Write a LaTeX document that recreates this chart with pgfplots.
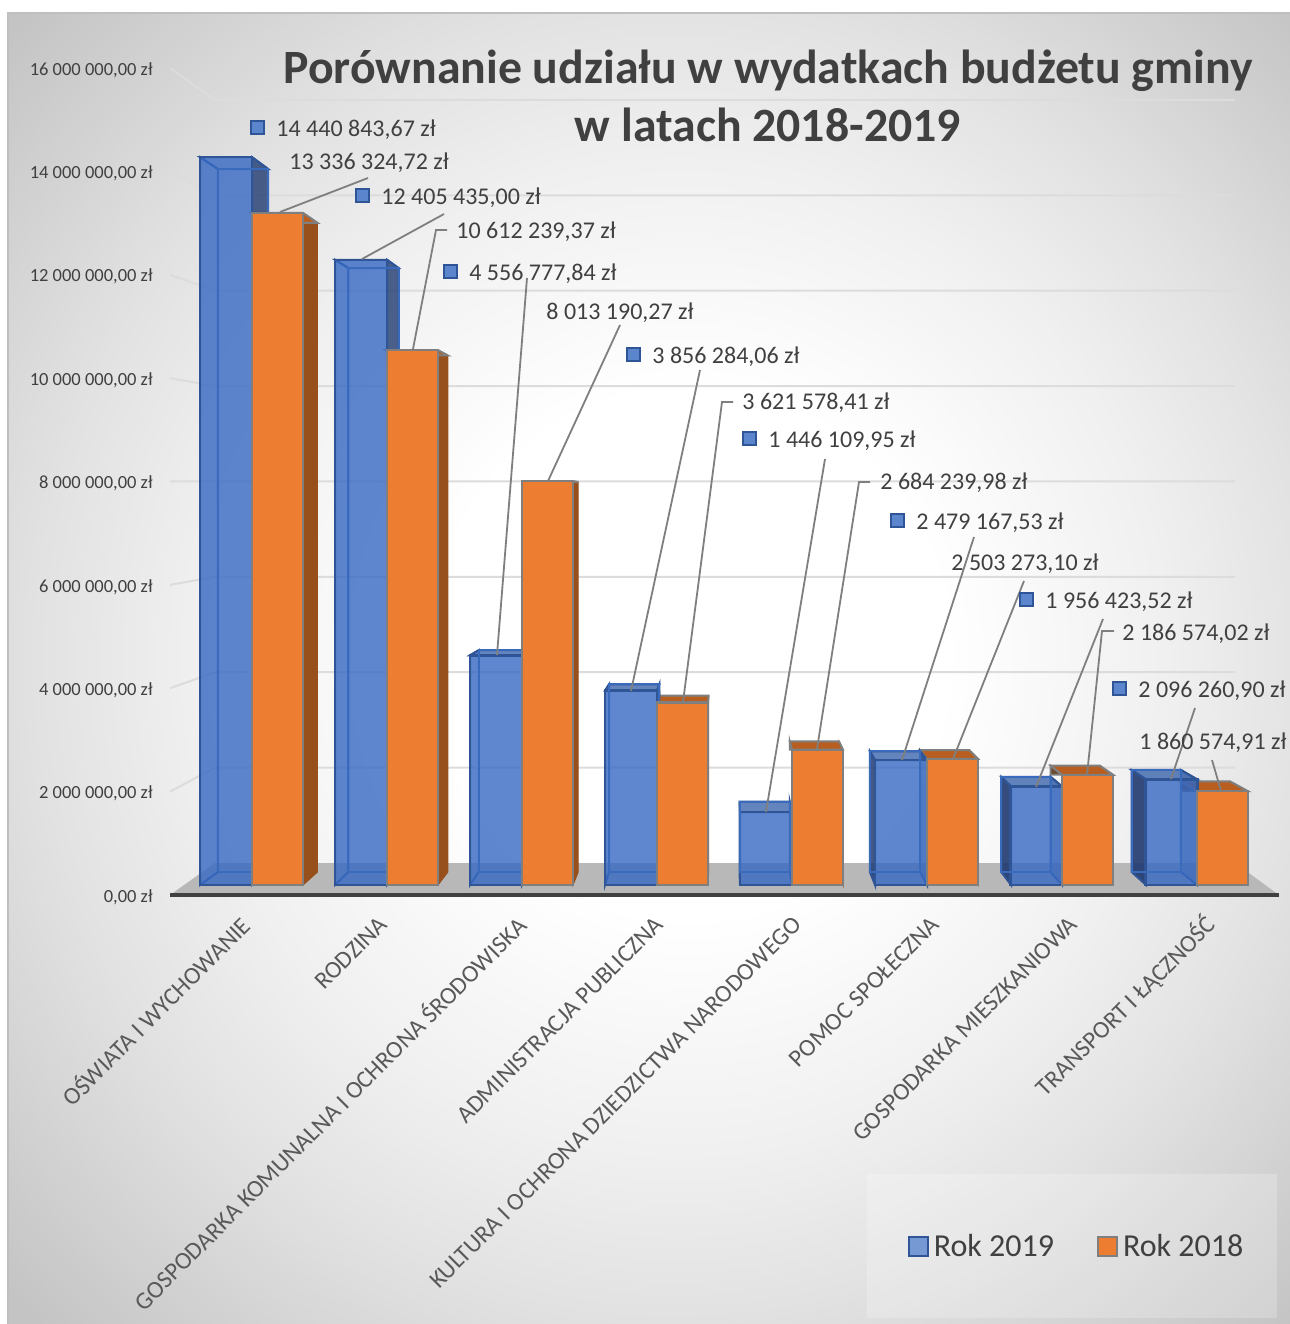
\documentclass[border=0pt]{standalone}
\usepackage{pgfplots}
\pgfplotsset{compat=1.18}
\usepackage{fontspec}
\setmainfont{Carlito}
\definecolor{txt}{HTML}{404040}
\definecolor{cattxt}{HTML}{595959}
\definecolor{gridc}{HTML}{DCDCDC}
\definecolor{floorc}{HTML}{B8B8B8}
\definecolor{bfill}{HTML}{3769C3}
\definecolor{bkey}{HTML}{5B86CE}
\definecolor{bedge}{HTML}{2F5597}
\definecolor{binner}{HTML}{3A6ABC}
\definecolor{bside}{HTML}{203A70}
\definecolor{btop}{HTML}{2F5CA8}
\definecolor{ofill}{HTML}{ED7D31}
\definecolor{oedge}{HTML}{7F7F7F}
\definecolor{oside}{HTML}{974F1C}
\definecolor{otop}{HTML}{B85E20}
\definecolor{oleft}{HTML}{6B4A30}
\definecolor{leader}{HTML}{7F7F7F}
\tikzset{lbl/.style={font=\fontsize{12pt}{14pt}\selectfont,text=txt,anchor=west,inner sep=0pt},
  ldr/.style={draw=leader,line width=0.9pt}}
\pgfdeclareradialshading{bgshade}{\pgfpoint{2bp}{0.7bp}}{%
  rgb(0bp)=(1,1,1); rgb(10bp)=(1,1,1); rgb(19bp)=(0.94,0.94,0.94);
  rgb(25bp)=(0.885,0.885,0.885); rgb(35bp)=(0.77,0.77,0.77); rgb(50bp)=(0.74,0.74,0.74)}
\newcommand{\keyb}{{\setlength\fboxsep{0pt}\setlength\fboxrule{1pt}\raisebox{2pt}{\fcolorbox{bedge}{bkey}{\rule{0pt}{5.5pt}\rule{5.5pt}{0pt}}}}\hspace{5.5pt}}
% back corners of a box, front at x0..x1 with value v (millions)
\newcommand{\backc}[3]{%
  \pgfmathsetmacro\bxa{#1+0.0342*(726-#1)}%
  \pgfmathsetmacro\bxb{#2+0.0342*(726-#2)}%
  \pgfmathsetmacro\bt{#3*0.9658+0.2578}}
% x0,x1,v,left opacity,right opacity,top opacity
\newcommand{\blueBox}[6]{%
  \backc{#1}{#2}{#3}%
  \addplot[forget plot,draw=bedge,line width=1pt,fill=bside,fill opacity=#4] coordinates {(#1,0) (#1,#3) (\bxa,\bt) (\bxa,0.2578)} -- cycle;
  \addplot[forget plot,draw=bedge,line width=1pt,fill=bside,fill opacity=#5] coordinates {(#2,0) (#2,#3) (\bxb,\bt) (\bxb,0.2578)} -- cycle;
  \addplot[forget plot,draw=bedge,line width=1pt,fill=btop,fill opacity=#6] coordinates {(#1,#3) (#2,#3) (\bxb,\bt) (\bxa,\bt)} -- cycle;
}
\newcommand{\blueBack}[3]{%
  \backc{#1}{#2}{#3}%
  \addplot[forget plot,draw=binner,line width=1pt] coordinates {(\bxa,0.2578) (\bxa,\bt) (\bxb,\bt) (\bxb,0.2578)} -- cycle;
}
\newcommand{\orangeBox}[3]{%
  \backc{#1}{#2}{#3}%
  \addplot[forget plot,draw=oedge,line width=0.9pt,fill=oleft] coordinates {(#1,#3) (\bxa,\bt) (\bxa,#3)} -- cycle;
  \addplot[forget plot,draw=oside,line width=0.5pt,fill=oside] coordinates {(#2,0) (#2,#3) (\bxb,\bt) (\bxb,0.2578)} -- cycle;
  \addplot[forget plot,draw=oedge,line width=1pt,fill=otop] coordinates {(#1,#3) (#2,#3) (\bxb,\bt) (\bxa,\bt)} -- cycle;
}
\begin{document}
\begin{tikzpicture}[x=1pt,y=1pt]
\path[use as bounding box] (0,0) rectangle (645,662);
\shade[shading=bgshade] (4,0) rectangle (645,655.5);
\draw[color=black!25,line width=0.7pt] (4,0) -- (4,655.5) -- (645,655.5);
%------------------------------------ value axis, floor, grid, categories
\begin{axis}[
  at={(85pt,214.5pt)},anchor=south west,scale only axis,
  width=554.5pt,height=413.5pt,
  xmin=170,xmax=1279,ymin=0,ymax=16,clip=false,
  axis x line=bottom,axis y line=left,
  axis line style={-},
  y axis line style={draw=none},
  x axis line style={color=txt,line width=1.6pt},
  major tick length=0pt,
  tick style={draw=none},
  ytick={0,2,4,6,8,10,12,14,16},
  yticklabels={{0,00 zł},{2 000 000,00 zł},{4 000 000,00 zł},{6 000 000,00 zł},{8 000 000,00 zł},{10 000 000,00 zł},{12 000 000,00 zł},{14 000 000,00 zł},{16 000 000,00 zł}},
  yticklabel style={font=\fontsize{9.25pt}{11pt}\selectfont,text=txt,anchor=east,inner sep=0pt,xshift=-8.5pt,yshift=-1pt},
  xtick={220,358,496,634,772,910,1048,1186},
  xticklabels={OŚWIATA I WYCHOWANIE,RODZINA,GOSPODARKA KOMUNALNA I OCHRONA ŚRODOWISKA,ADMINISTRACJA PUBLICZNA,KULTURA I OCHRONA DZIEDZICTWA NARODOWEGO,POMOC SPOŁECZNA,GOSPODARKA MIESZKANIOWA,TRANSPORT I ŁĄCZNOŚĆ},
  xticklabel style={font=\fontsize{12.2pt}{14pt}\selectfont,text=cattxt,rotate=45,anchor=east,inner sep=0pt,yshift=-18pt},
  no markers,axis on top,
]
\addplot[forget plot,draw=none,fill=floorc] coordinates {(170,0) (215,0.619) (1235,0.619) (1279,0)} -- cycle;
\addplot[forget plot,draw=gridc,line width=1pt] coordinates {(170,2) (215,2.465) (1235,2.465)};
\addplot[forget plot,draw=gridc,line width=1pt] coordinates {(170,4) (215,4.310) (1235,4.310)};
\addplot[forget plot,draw=gridc,line width=1pt] coordinates {(170,6) (215,6.156) (1235,6.156)};
\addplot[forget plot,draw=gridc,line width=1pt] coordinates {(170,8) (215,8.001) (1235,8.001)};
\addplot[forget plot,draw=gridc,line width=1pt] coordinates {(170,10) (215,9.847) (1235,9.847)};
\addplot[forget plot,draw=gridc,line width=1pt] coordinates {(170,12) (215,11.693) (1235,11.693)};
\addplot[forget plot,draw=gridc,line width=1pt] coordinates {(170,14) (215,13.538) (1235,13.538)};
\addplot[forget plot,draw=gridc,line width=1pt] coordinates {(170,16) (215,15.384) (1235,15.384)};
\end{axis}
%------------------------------------ bars: x in pixels, y in millions of zl
\begin{axis}[
  at={(0pt,0pt)},anchor=south west,scale only axis,
  width=645pt,height=662pt,
  xmin=0,xmax=1290,ymin=-8.7103,ymax=17.5595,
  hide axis,clip=false,no markers,
  legend style={at={(rel axis cs:0.8357,0.0582)},anchor=center,draw=none,fill=none,
    legend columns=2,font=\fontsize{16pt}{18pt}\selectfont,text=txt,
    /tikz/every even column/.append style={column sep=19pt},
    nodes={inner xsep=2.5pt,inner ysep=0pt}},
  legend cell align=left,
]
\fill[white,opacity=0.22] (rel axis cs:0.6721,0.11329) rectangle (rel axis cs:0.98992,0.00453);
% orange side and top faces
\orangeBox{252}{303}{13.33632472}
\orangeBox{387}{438}{10.61223937}
\orangeBox{522}{573}{8.01319027}
\orangeBox{657}{708}{3.62157841}
\orangeBox{792}{843}{2.68423998}
\orangeBox{927}{978}{2.50327310}
\orangeBox{1062}{1113}{2.18657402}
\orangeBox{1197}{1248}{1.86057491}
% blue side and top faces
\blueBox{200}{252}{14.44084367}{0.03}{0.8}{0.05}
\blueBox{335}{387}{12.40543500}{0.03}{0.8}{0.05}
\blueBox{470}{522}{4.55677784}{0.03}{0.8}{0.75}
\blueBox{605}{657}{3.85628406}{0.03}{0.8}{0.75}
\blueBox{740}{792}{1.44610995}{0.03}{0.2}{0.75}
\blueBox{875}{927}{2.47916753}{0.85}{0.3}{0.75}
\blueBox{1011}{1062}{1.95642352}{0.9}{0.3}{0.75}
\blueBox{1146}{1197}{2.09626090}{0.9}{0.3}{0.75}
% blue front faces
\addplot[ybar,bar shift=0pt,bar width=26pt,draw=bedge,line width=1.2pt,fill=bfill,fill opacity=0.8,
  legend image code/.code={\draw[draw=bedge,fill=bkey,line width=1pt] (0pt,-4.5pt) rectangle (9.5pt,5pt);}]
  coordinates {(226,14.44084367) (361,12.40543500) (496,4.55677784) (631,3.85628406) (766,1.44610995) (901,2.47916753) (1036.5,1.95642352) (1171.5,2.09626090)};
\addlegendentry{Rok 2019}
\blueBack{200}{252}{14.44084367}
\blueBack{335}{387}{12.40543500}
\blueBack{470}{522}{4.55677784}
\blueBack{605}{657}{3.85628406}
\blueBack{740}{792}{1.44610995}
\blueBack{875}{927}{2.47916753}
\blueBack{1011}{1062}{1.95642352}
\blueBack{1146}{1197}{2.09626090}
% orange front faces
\addplot[ybar,bar shift=0pt,bar width=25.5pt,draw=oedge,line width=1.2pt,fill=ofill,
  legend image code/.code={\draw[draw=oedge,fill=ofill,line width=1pt] (0pt,-4.5pt) rectangle (9.5pt,5pt);}]
  coordinates {(277.5,13.33632472) (412.5,10.61223937) (547.5,8.01319027) (682.5,3.62157841) (817.5,2.68423998) (952.5,2.50327310) (1087.5,2.18657402) (1222.5,1.86057491)};
\addlegendentry{Rok 2018}
\end{axis}
%------------------------------------ title, data labels and leader lines, in pixels
\begin{axis}[
  at={(0pt,0pt)},anchor=south west,scale only axis,
  width=645pt,height=662pt,
  xmin=0,xmax=1290,ymin=0,ymax=1324,y dir=reverse,
  hide axis,clip=false,no markers,
  title={Porównanie udziału w wydatkach budżetu gminy\\w latach 2018-2019},
  title style={at={(0.5953,0.9184)},anchor=center,align=center,text=txt,
    font=\fontsize{23.9pt}{29pt}\selectfont\bfseries},
]
\addplot[forget plot,ldr] coordinates {(280,212) (368,178)};
\addplot[forget plot,ldr] coordinates {(362,259) (444,214)};
\addplot[forget plot,ldr] coordinates {(413,349) (436,230) (447,230)};
\addplot[forget plot,ldr] coordinates {(497,655) (527,278)};
\addplot[forget plot,ldr] coordinates {(548,481) (620,325)};
\addplot[forget plot,ldr] coordinates {(631,691) (700,370)};
\addplot[forget plot,ldr] coordinates {(683,702) (722,402) (733,402)};
\addplot[forget plot,ldr] coordinates {(766,812) (825,459)};
\addplot[forget plot,ldr] coordinates {(817,749) (859,482) (870,482)};
\addplot[forget plot,ldr] coordinates {(902,760) (974,537)};
\addplot[forget plot,ldr] coordinates {(953,759) (1024,581)};
\addplot[forget plot,ldr] coordinates {(1036,787) (1103,619)};
\addplot[forget plot,ldr] coordinates {(1087,775) (1102,631) (1114,631)};
\addplot[forget plot,ldr] coordinates {(1171,779) (1195,708)};
\addplot[forget plot,ldr] coordinates {(1221,791) (1212,760)};
\node[lbl] at (axis cs:250,130) {\keyb 14 440 843,67 zł};
\node[lbl] at (axis cs:289,163) {13 336 324,72 zł};
\node[lbl] at (axis cs:355,198) {\keyb 12 405 435,00 zł};
\node[lbl] at (axis cs:456,232) {10 612 239,37 zł};
\node[lbl] at (axis cs:443,274) {\keyb 4 556 777,84 zł};
\node[lbl] at (axis cs:546,313) {8 013 190,27 zł};
\node[lbl] at (axis cs:626,357) {\keyb 3 856 284,06 zł};
\node[lbl] at (axis cs:742,403) {3 621 578,41 zł};
\node[lbl] at (axis cs:742,441) {\keyb 1 446 109,95 zł};
\node[lbl] at (axis cs:880,483) {2 684 239,98 zł};
\node[lbl] at (axis cs:890,523) {\keyb 2 479 167,53 zł};
\node[lbl] at (axis cs:951,564) {2 503 273,10 zł};
\node[lbl] at (axis cs:1019,602) {\keyb 1 956 423,52 zł};
\node[lbl] at (axis cs:1122,634) {2 186 574,02 zł};
\node[lbl] at (axis cs:1112,691) {\keyb 2 096 260,90 zł};
\node[lbl] at (axis cs:1139,743) {1 860 574,91 zł};
\end{axis}
\end{tikzpicture}
\end{document}
